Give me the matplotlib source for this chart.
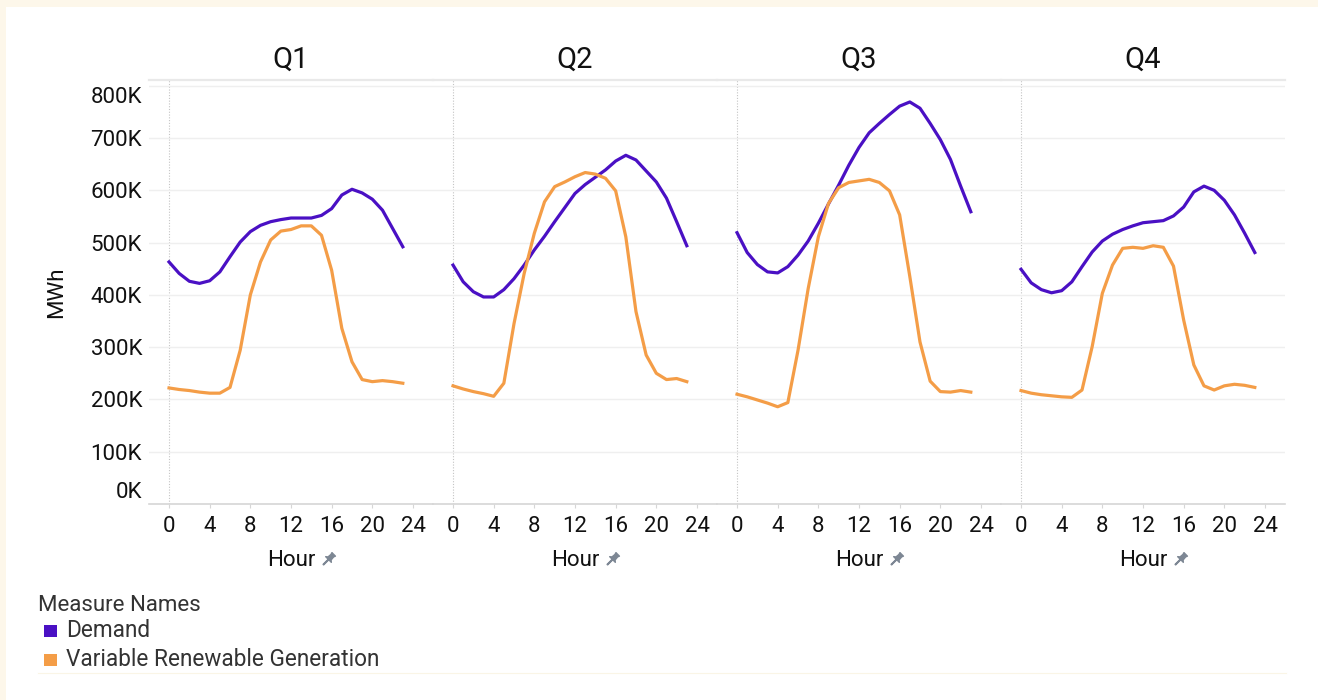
import numpy as np
import matplotlib
matplotlib.use('Agg')
from matplotlib import pyplot as plt
from matplotlib import transforms
from matplotlib.lines import Line2D
from matplotlib.patches import Rectangle
from matplotlib.path import Path

plt.rcParams['font.family'] = ['Roboto', 'DejaVu Sans']

hours = list(range(24))
quarters = ['Q1', 'Q2', 'Q3', 'Q4']

# MWh, hourly
demand_q1 = [463, 441, 426, 422, 427, 444, 473, 501, 521, 533, 540, 544,
             547, 547, 547, 552, 565, 591, 602, 595, 583, 562, 527, 492]
demand_q2 = [457, 425, 406, 396, 396, 410, 431, 457, 486, 512, 540, 567,
             594, 611, 625, 639, 656, 667, 658, 637, 616, 585, 540, 494]
demand_q3 = [519, 481, 458, 444, 442, 454, 476, 503, 537, 574, 610, 648,
             682, 710, 728, 745, 761, 769, 757, 728, 697, 659, 608, 559]
demand_q4 = [449, 423, 410, 404, 408, 425, 454, 482, 503, 516, 525, 532,
             538, 540, 542, 551, 568, 597, 608, 600, 581, 553, 518, 481]

vre_q1 = [222, 219, 217, 214, 212, 212, 223, 294, 400, 463, 505, 522,
          525, 532, 532, 514, 447, 336, 272, 238, 234, 236, 234, 231]
vre_q2 = [226, 220, 215, 211, 206, 231, 345, 441, 518, 578, 607, 616,
          626, 634, 631, 623, 599, 511, 368, 285, 250, 238, 240, 234]
vre_q3 = [210, 205, 199, 193, 186, 194, 294, 412, 511, 575, 605, 615,
          618, 621, 615, 599, 553, 435, 310, 235, 215, 214, 217, 214]
vre_q4 = [217, 212, 209, 207, 205, 204, 218, 301, 403, 457, 489, 491,
          489, 494, 491, 455, 352, 266, 226, 218, 226, 229, 227, 223]

demand = [demand_q1, demand_q2, demand_q3, demand_q4]
vre = [vre_q1, vre_q2, vre_q3, vre_q4]

y_ticks = [0, 100, 200, 300, 400, 500, 600, 700, 800]
y_tick_labels = [f'{v}K' for v in y_ticks]
x_ticks = [0, 4, 8, 12, 16, 20, 24]

DEMAND_COLOR = '#4a10c4'
VRE_COLOR = '#f49d47'
CREAM = '#fdf7ea'
TEXT = '#111111'

W, H = 1318, 700
fig = plt.figure(figsize=(W / 100, H / 100), dpi=100)
fig.patch.set_facecolor(CREAM)
fig.add_artist(Rectangle((6 / W, 0), 1, 1 - 7 / H, transform=fig.transFigure,
                         facecolor='white', edgecolor='none', zorder=0))


def fx(px):
    return px / W


def fy(px):
    return 1 - px / H


# pushpin marker (needle down-left)
pin = np.array([[-0.35, 1.0], [0.35, 1.0], [0.25, 0.75], [0.3, 0.2],
                [0.55, 0.0], [0.05, 0.0], [0.05, -1.0], [-0.05, -1.0],
                [-0.05, 0.0], [-0.55, 0.0], [-0.3, 0.2], [-0.25, 0.75],
                [-0.35, 1.0]])
ang = np.deg2rad(-45)
rot = np.array([[np.cos(ang), -np.sin(ang)], [np.sin(ang), np.cos(ang)]])
pin_path = Path(pin @ rot.T)

left0, panel_w = 149, 284
top, bottom = 80, 504
axes = []
for i, q in enumerate(quarters):
    left = left0 + i * panel_w
    ax = fig.add_axes([fx(left), fy(bottom), fx(panel_w), (bottom - top) / H])
    ax.set_facecolor('none')
    ax.plot(hours, [v * 1000 for v in demand[i]], color=DEMAND_COLOR, lw=2.3,
            solid_joinstyle='round', zorder=3)
    ax.plot(hours, [v * 1000 for v in vre[i]], color=VRE_COLOR, lw=2.3,
            solid_joinstyle='round', zorder=3)
    ax.set_xlim(-1.97, 25.97)
    ax.set_ylim(0, 811000)
    ax.set_yticks([v * 1000 for v in y_ticks])
    ax.set_xticks(x_ticks)
    ax.grid(axis='y', color='#efefef', lw=1)
    ax.axvline(0, color='#c4c4c4', lw=0.8, ls=(0, (1, 1.5)), zorder=1)
    for s in ('left', 'right'):
        ax.spines[s].set_visible(False)
    ax.spines['top'].set_color('#e9e9e9')
    ax.spines['top'].set_linewidth(1.6)
    ax.spines['bottom'].set_color('#d6d6d6')
    ax.spines['bottom'].set_linewidth(1.2)
    ax.tick_params(axis='x', length=3, color='#d6d6d6', pad=5.5,
                   labelsize=16, labelcolor=TEXT)
    ax.tick_params(axis='y', length=0, pad=5, labelsize=16, labelcolor=TEXT)
    if i == 0:
        ax.set_yticklabels(y_tick_labels)
        labels = ax.get_yticklabels()
        labels[0].set_transform(labels[0].get_transform() +
                                transforms.ScaledTranslation(0, 0.14, fig.dpi_scale_trans))
        labels[-1].set_transform(labels[-1].get_transform() +
                                 transforms.ScaledTranslation(0, -0.095, fig.dpi_scale_trans))
    else:
        ax.set_yticklabels([])
    cx = left + panel_w / 2
    fig.text(fx(cx), fy(68), q, ha='center', va='baseline', fontsize=21,
             color=TEXT)
    fig.text(fx(cx), fy(566), 'Hour', ha='center', va='baseline',
             fontsize=16, color=TEXT)
    fig.add_artist(Line2D([fx(cx + 37)], [fy(559)], transform=fig.transFigure,
                          marker=pin_path, ms=10, color='#7d8794', lw=0))
    axes.append(ax)

fig.text(fx(57), fy(292), 'MWh', rotation=90, ha='center', va='center',
         fontsize=16, color=TEXT)

# legend
fig.text(fx(38), fy(611), 'Measure Names', ha='left', va='baseline',
         fontsize=16, color='#333333')
for label, color, base in [('Demand', DEMAND_COLOR, 637),
                           ('Variable Renewable Generation', VRE_COLOR, 666)]:
    fig.add_artist(Rectangle((fx(44), fy(base)), fx(13), 12 / H,
                             transform=fig.transFigure, facecolor=color,
                             edgecolor='none'))
    fig.text(fx(66), fy(base), label, ha='left', va='baseline', fontsize=16.3,
             color='#333333')

fig.add_artist(Line2D([fx(38), fx(1286)], [fy(673), fy(673)],
                      transform=fig.transFigure, color='#faf5e6', lw=0.8))

fig.savefig('out.png', dpi=100, facecolor=fig.get_facecolor())
